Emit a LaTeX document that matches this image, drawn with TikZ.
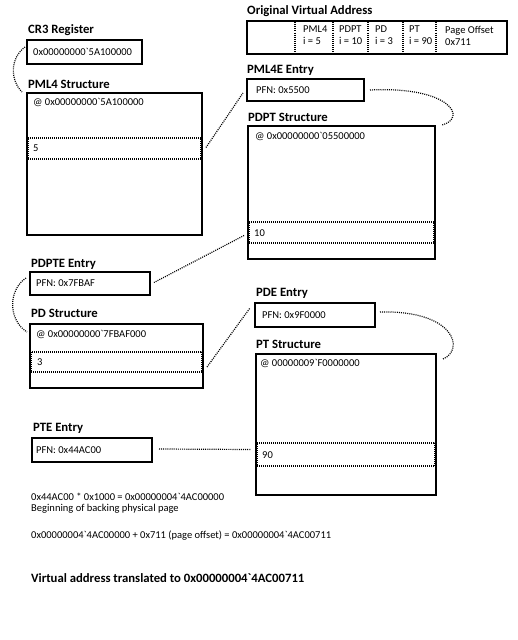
\documentclass[tikz,border=0pt]{standalone}
\usepackage{fontspec}
\setmainfont[Ligatures=TeXOff]{Carlito}
\usetikzlibrary{calc}
\begin{document}
\begin{tikzpicture}[x=1pt,y=-1pt,
  box/.style={draw=black,line width=1.6pt,anchor=north west,inner sep=0pt,outer sep=0pt},
  row/.style={draw=black,line width=1.1pt,dash pattern=on 1pt off 1pt,anchor=north west,inner sep=0pt,outer sep=0pt},
  conn/.style={line width=1.2pt,dash pattern=on 1pt off 1.1pt},
  ttl/.style={anchor=west,inner sep=0pt,font=\fontsize{12.7}{14}\selectfont\bfseries},
  txt/.style={anchor=west,inner sep=0pt,font=\fontsize{10.5}{12}\selectfont},
  cell/.style={anchor=north west,inner sep=0pt,align=left,font=\fontsize{10.5}{12}\selectfont}]
\useasboundingbox[fill=white] (0,0) rectangle (518,640);

% CR3
\node[ttl] (cr3t) at (28,30) {CR3 Register};
\node[box,minimum width=115pt,minimum height=24pt] (cr3) at (27,40) {};
\node[txt] (cr3v) at (33,52) {0x00000000`5A100000};

% PML4
\node[ttl] (pml4t) at (28,84) {PML4 Structure};
\node[box,minimum width=175pt,minimum height=142pt] (pml4) at (27,93) {};
\node[txt] (pml4a) at (33,103) {@ 0x00000000`5A100000};
\node[row,minimum width=173pt,minimum height=21pt] (pml4row) at (28,138) {};
\node[txt] (pml4i) at (33,148) {5};

% Original virtual address
\node[ttl] (vat) at (247,11) {Original Virtual Address};
\node[box,minimum width=260pt,minimum height=33pt] (va) at (247,21) {};
\foreach \x in {295,333,368,403,436}
  \draw[conn] (\x,22) -- (\x,53);
\node[cell] (c1) at (303,26) {PML4\\i = 5};
\node[cell] (c2) at (339,26) {PDPT\\i = 10};
\node[cell] (c3) at (375,26) {PD\\i = 3};
\node[cell] (c4) at (409,26) {PT\\i = 90};
\node[cell] (c5) at (445,26) {Page Offset\\0x711};

% PML4E
\node[ttl] (pml4et) at (247,70) {PML4E Entry};
\node[box,minimum width=117pt,minimum height=22pt] (pml4e) at (247,79) {};
\node[txt] (pml4ev) at (256,90) {PFN: 0x5500};

% PDPT
\node[ttl] (pdptt) at (248,117) {PDPT Structure};
\node[box,minimum width=187pt,minimum height=133pt] (pdpt) at (248,126) {};
\node[txt] (pdpta) at (255,137) {@ 0x00000000`05500000};
\node[row,minimum width=185pt,minimum height=21pt] (pdptrow) at (249,222) {};
\node[txt] (pdpti) at (254,233) {10};

% PDPTE
\node[ttl] (pdptet) at (31,264) {PDPTE Entry};
\node[box,minimum width=120pt,minimum height=23pt] (pdpte) at (30,272) {};
\node[txt] (pdptev) at (36,283) {PFN: 0x7FBAF};

% PD
\node[ttl] (pdt) at (31,313) {PD Structure};
\node[box,minimum width=173pt,minimum height=64pt] (pd) at (30,324) {};
\node[txt] (pda) at (36,335) {@ 0x00000000`7FBAF000};
\node[row,minimum width=171pt,minimum height=20pt] (pdrow) at (31,352) {};
\node[txt] (pdi) at (37,362) {3};

% PDE
\node[ttl] (pdet) at (256,293) {PDE Entry};
\node[box,minimum width=120pt,minimum height=24pt] (pde) at (255,303) {};
\node[txt] (pdev) at (262,315) {PFN: 0x9F0000};

% PT
\node[ttl] (ptt) at (256,344) {PT Structure};
\node[box,minimum width=180pt,minimum height=141pt] (pt) at (256,354) {};
\node[txt] (pta) at (260,364) {@ 00000009`F0000000};
\node[row,minimum width=178pt,minimum height=23pt] (ptrow) at (257,443) {};
\node[txt] (pti) at (262,455) {90};

% PTE
\node[ttl] (ptet) at (33,428) {PTE Entry};
\node[box,minimum width=120pt,minimum height=24pt] (pte) at (32,438) {};
\node[txt] (ptev) at (36,450) {PFN: 0x44AC00};

% Texts
\node[txt] (l1) at (31,497) {0x44AC00 * 0x1000 = 0x00000004`4AC00000};
\node[txt] (l2) at (31,509) {Beginning of backing physical page};
\node[txt] (l3) at (31,536) {0x00000004`4AC00000 + 0x711 (page offset) = 0x00000004`4AC00711};
\node[ttl] (l4) at (31,578) {Virtual address translated to 0x00000004`4AC00711};

% Connectors
\draw[conn] ([shift={(-2,7)}]cr3.north west) .. controls ([shift={(-17,18)}]cr3.north west) and ([shift={(-17,-13)}]pml4.north west) .. ([shift={(-5,-1)}]pml4.north west);
\draw[conn] ([shift={(5,-1)}]pml4row.east) -- ([shift={(-4,14)}]pml4e.north west);
\draw[conn] ([shift={(6,0)}]pml4e.east) .. controls ([shift={(86,-4)}]pml4e.east) and ([shift={(33,-8)}]pdpt.north east) .. ([shift={(7,-1)}]pdpt.north east);
\draw[conn] ([shift={(-5,3)}]pdptrow.west) -- ([shift={(4,-1)}]pdpte.east);
\draw[conn] ([shift={(-4,6)}]pdpte.north west) .. controls ([shift={(-22,18)}]pdpte.north west) and ([shift={(-22,-4)}]pd.north west) .. ([shift={(-3,8)}]pd.north west);
\draw[conn] ([shift={(5,5)}]pdrow.east) -- ([shift={(-5,5)}]pde.north west);
\draw[conn] ([shift={(5,-3)}]pde.east) .. controls ([shift={(80,-5)}]pde.east) and ([shift={(29,-4)}]pt.north east) .. ([shift={(7,5)}]pt.north east);
\draw[conn] ([shift={(7,-1)}]pte.east) -- ([shift={(-6,-5)}]ptrow.west);
\end{tikzpicture}
\end{document}
